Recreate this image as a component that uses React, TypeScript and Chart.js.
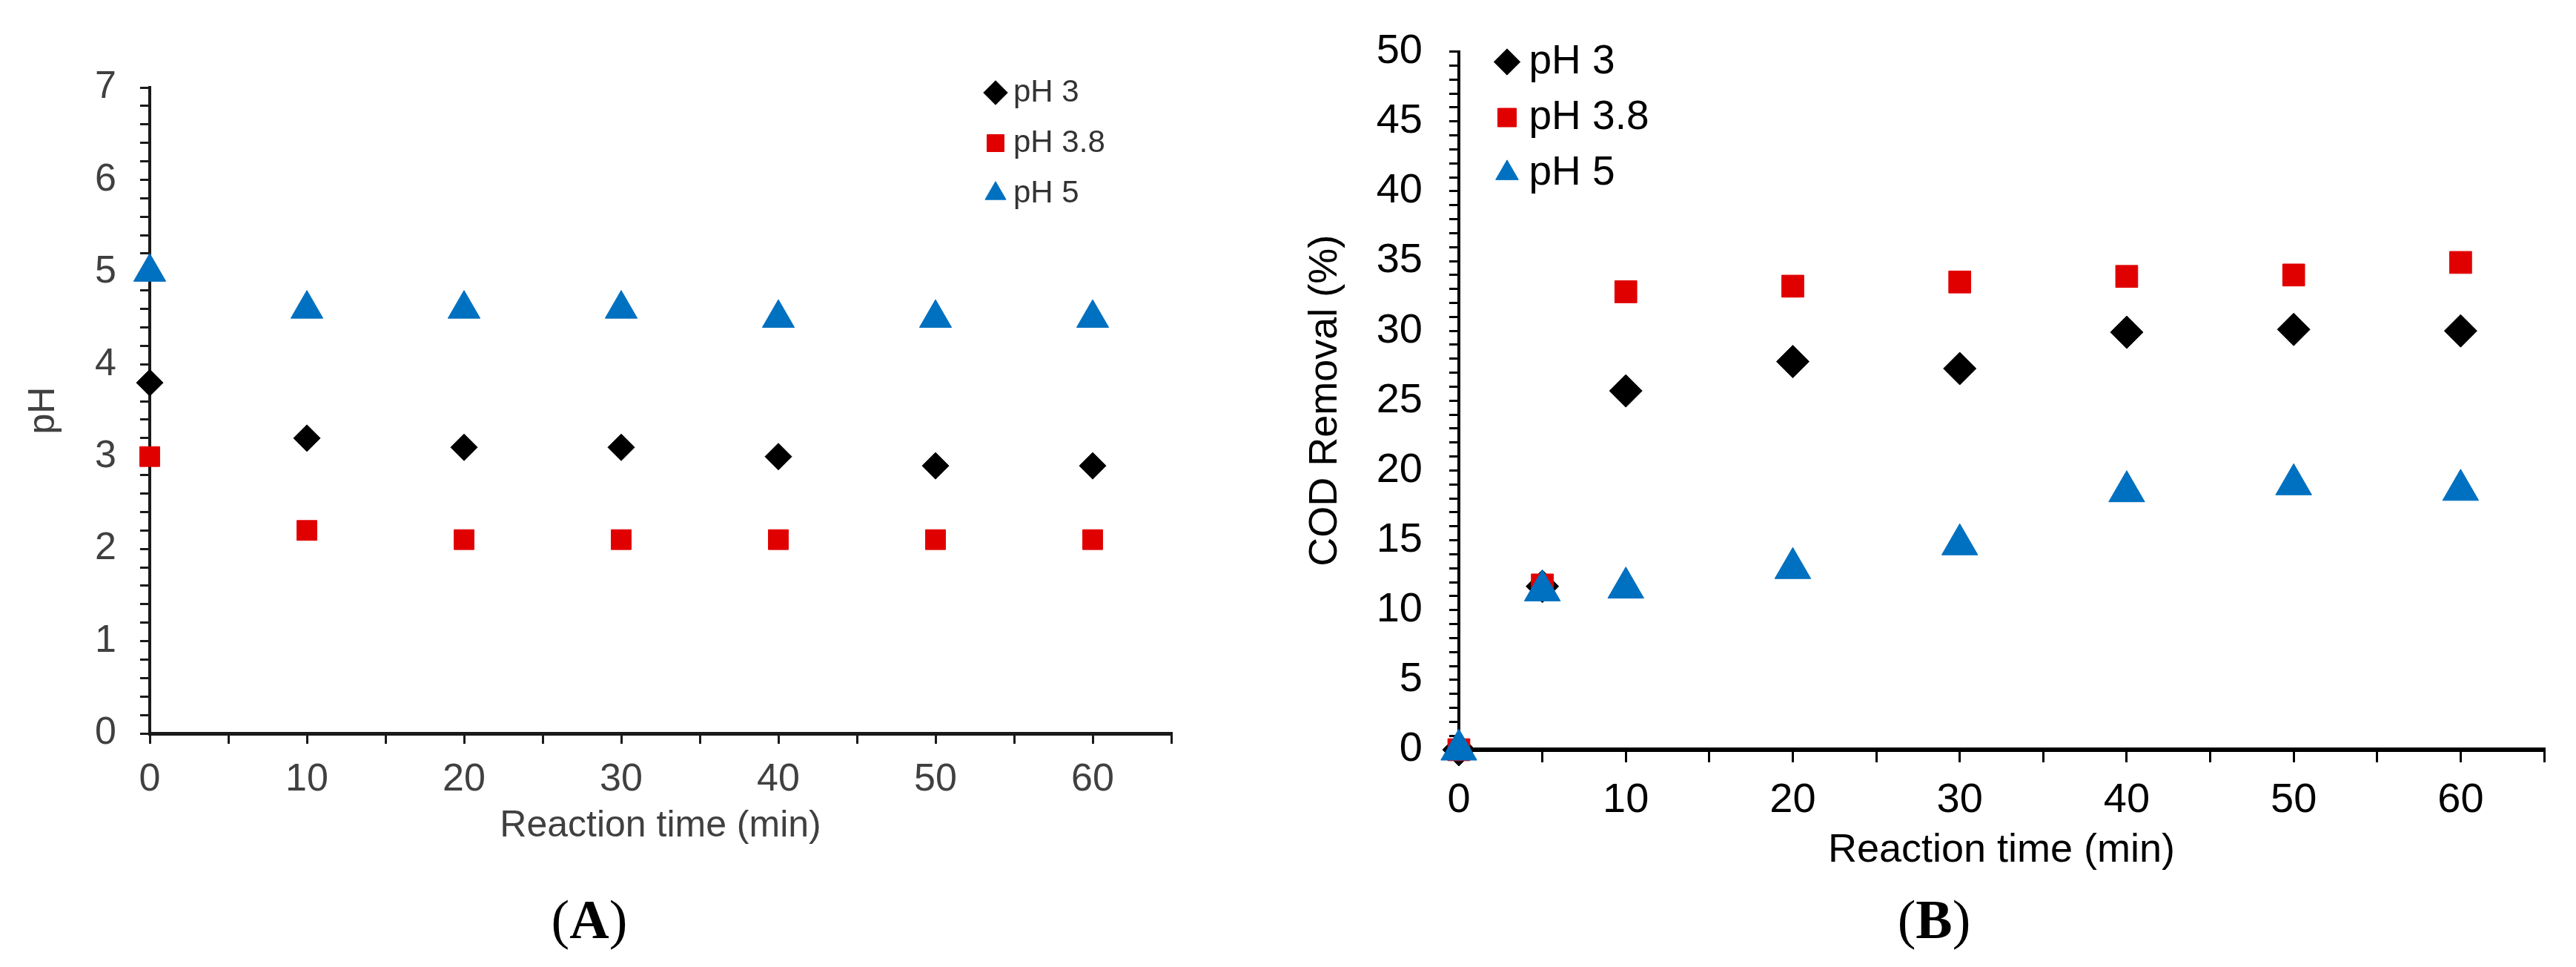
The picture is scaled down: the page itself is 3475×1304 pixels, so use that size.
import { useEffect, useRef } from 'react'
import { Chart, registerables } from 'chart.js'
import type { ChartConfiguration, Plugin } from 'chart.js'

Chart.register(...registerables)

// (A) pH over reaction time
const timesA = [0, 10, 20, 30, 40, 50, 60]
const phA3 = [3.8, 3.2, 3.1, 3.1, 3.0, 2.9, 2.9]
const phA38 = [3.0, 2.2, 2.1, 2.1, 2.1, 2.1, 2.1]
const phA5 = [5.0, 4.6, 4.6, 4.6, 4.5, 4.5, 4.5]

// (B) COD removal over reaction time
const timesB = [0, 5, 10, 20, 30, 40, 50, 60]
const codB3 = [0, 11.7, 25.7, 27.8, 27.3, 29.9, 30.1, 30.0]
const codB38 = [0, 11.8, 32.8, 33.2, 33.5, 33.9, 34.0, 34.9]
const codB5 = [0, 11.4, 11.6, 13.0, 14.7, 18.5, 19.0, 18.6]

const seriesNames = ['pH 3', 'pH 3.8', 'pH 5']
const seriesColors = ['#000000', '#e00000', '#0070c0']
const seriesStyles = ['rectRot', 'rect', 'triangle']

const xTitle = 'Reaction time (min)'
const yTitleA = 'pH'
const yTitleB = 'COD Removal (%)'

const SANS = "'Liberation Sans', Arial, sans-serif"

function makeDatasets(xs: number[], ys: number[][], radii: number[]) {
  return ys.map((vals, i) => ({
    label: seriesNames[i],
    data: xs.map((x, j) => ({ x, y: vals[j] })),
    pointStyle: seriesStyles[i],
    pointRadius: radii[i],
    pointHoverRadius: radii[i],
    backgroundColor: seriesColors[i],
    borderColor: seriesColors[i],
    pointBorderWidth: 1,
    showLine: false,
    clip: false as const,
    // last series sits on top where markers overlap
    order: ys.length - i,
  }))
}

// put the chartArea legend at a fixed spot inside the plot
function legendAt(left: number, top: number): Plugin<'scatter'> {
  return {
    id: 'legendAt',
    afterLayout(chart) {
      const lg: any = chart.legend
      if (!lg) return
      lg.left = left
      lg.top = top
      lg.right = left + lg.width
      lg.height = 400
      lg.bottom = top + 400
    },
  }
}

const onlyEvery = (n: number) => (v: any) => {
  const num = Number(v)
  return Math.abs(num / n - Math.round(num / n)) < 1e-6 ? String(Math.round(num)) : ''
}

function configA(): ChartConfiguration<'scatter'> {
  const text = '#404040'
  const line = '#1a1a1a'
  return {
    type: 'scatter',
    data: { datasets: makeDatasets(timesA, [phA3, phA38, phA5], [18, 19, 25]) as any },
    options: {
      animation: false,
      responsive: false,
      events: [],
      layout: { padding: { left: 0, top: 118, right: 120, bottom: 0 } },
      scales: {
        x: {
          type: 'linear',
          min: 0,
          max: 65,
          afterFit: (s: any) => { s.height = 211 },
          ticks: { stepSize: 5, autoSkip: false, maxRotation: 0, padding: 17, color: text, font: { family: SANS, size: 52 }, callback: onlyEvery(10) },
          grid: { drawOnChartArea: false, tickLength: 14, tickWidth: 3, lineWidth: 3, tickColor: line },
          border: { display: true, width: 5, color: line },
          title: { display: true, text: xTitle, color: text, font: { family: SANS, size: 50 }, padding: { top: 0, bottom: 56 } },
        },
        y: {
          type: 'linear',
          min: 0,
          max: 7,
          afterFit: (s: any) => { s.width = 202 },
          ticks: { stepSize: 0.2, autoSkip: false, padding: 32, color: text, font: { family: SANS, size: 52 }, callback: onlyEvery(1) },
          grid: { drawOnChartArea: false, tickLength: 13, tickWidth: 3, lineWidth: 3, tickColor: line },
          border: { display: true, width: 4, color: line },
          title: { display: true, text: yTitleA, color: text, font: { family: SANS, size: 50 }, padding: { top: 29, bottom: 0 } },
        },
      },
      plugins: {
        tooltip: { enabled: false },
        legend: {
          position: 'chartArea',
          align: 'start',
          labels: {
            usePointStyle: true,
            boxWidth: 6,
            boxHeight: 23,
            padding: 26,
            color: '#333333',
            font: { family: SANS, size: 42 },
            sort: (a: any, b: any) => a.datasetIndex - b.datasetIndex,
          },
        },
      },
    },
    plugins: [legendAt(1314, 78)],
  }
}

function configB(): ChartConfiguration<'scatter'> {
  const text = '#000000'
  return {
    type: 'scatter',
    data: { datasets: makeDatasets(timesB, [codB3, codB38, codB5], [22, 21, 28]) as any },
    options: {
      animation: false,
      responsive: false,
      events: [],
      layout: { padding: { left: 0, top: 69, right: 43, bottom: 0 } },
      scales: {
        x: {
          type: 'linear',
          min: 0,
          max: 65,
          afterFit: (s: any) => { s.height = 209 },
          ticks: { stepSize: 5, autoSkip: false, maxRotation: 0, padding: 18, color: text, font: { family: SANS, size: 56 }, callback: onlyEvery(10) },
          grid: { drawOnChartArea: false, tickLength: 17, tickWidth: 3, lineWidth: 3, tickColor: text },
          border: { display: true, width: 6, color: text },
          title: { display: true, text: xTitle, color: text, font: { family: SANS, size: 54 }, padding: { top: 0, bottom: 40 } },
        },
        y: {
          type: 'linear',
          min: 0,
          max: 50,
          afterFit: (s: any) => { s.width = 208 },
          ticks: { stepSize: 1, autoSkip: false, padding: 36, color: text, font: { family: SANS, size: 56 }, callback: onlyEvery(5) },
          grid: { drawOnChartArea: false, tickLength: 13, tickWidth: 3, lineWidth: 3, tickColor: text },
          border: { display: true, width: 4, color: text },
          title: { display: true, text: yTitleB, color: text, font: { family: SANS, size: 54, lineHeight: 1 }, padding: { top: 1, bottom: 0 } },
        },
      },
      plugins: {
        tooltip: { enabled: false },
        legend: {
          position: 'chartArea',
          align: 'start',
          labels: {
            usePointStyle: true,
            boxWidth: 4,
            boxHeight: 25,
            padding: 20,
            color: text,
            font: { family: SANS, size: 55 },
            sort: (a: any, b: any) => a.datasetIndex - b.datasetIndex,
          },
        },
      },
    },
    plugins: [legendAt(251, 36)],
  }
}

interface PanelProps {
  left: number
  width: number
  height: number
  makeConfig: () => ChartConfiguration<'scatter'>
}

function ScatterPanel({ left, width, height, makeConfig }: PanelProps) {
  const canvasRef = useRef<HTMLCanvasElement | null>(null)
  const chartRef = useRef<Chart<'scatter'> | null>(null)

  useEffect(() => {
    const ctx = canvasRef.current?.getContext('2d')
    if (!ctx) return
    chartRef.current = new Chart(ctx, makeConfig())
    return () => {
      chartRef.current?.destroy()
      chartRef.current = null
    }
  }, [makeConfig])

  return (
    <canvas
      ref={canvasRef}
      width={width}
      height={height}
      style={{ position: 'absolute', left, top: 0, width, height }}
    />
  )
}

function Caption({ cx, letter }: { cx: number; letter: string }) {
  return (
    <div
      style={{
        position: 'absolute',
        left: cx - 100,
        top: 1203,
        width: 200,
        textAlign: 'center',
        font: "74px/74px 'Liberation Serif', 'Times New Roman', serif",
        color: '#000',
      }}
    >
      (<b>{letter}</b>)
    </div>
  )
}

export default function App() {
  return (
    <div style={{ position: 'absolute', left: 0, top: 0, width: 3475, height: 1304, background: '#fff', overflow: 'hidden' }}>
      <ScatterPanel left={0} width={1700} height={1200} makeConfig={configA} />
      <ScatterPanel left={1760} width={1715} height={1220} makeConfig={configB} />
      <Caption cx={795} letter="A" />
      <Caption cx={2609} letter="B" />
    </div>
  )
}
